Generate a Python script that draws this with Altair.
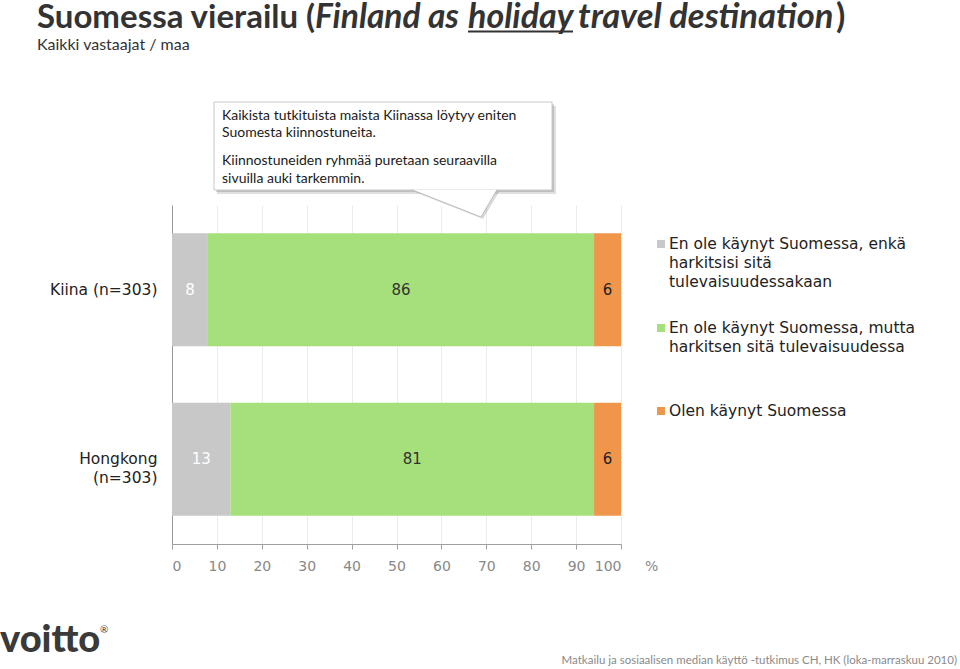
import altair as alt
import pandas as pd

# ---------------- data ----------------
countries = ["Kiina (n=303)", "Hongkong (n=303)"]
categories = [
    "En ole käynyt Suomessa, enkä harkitsisi sitä tulevaisuudessakaan",
    "En ole käynyt Suomessa, mutta harkitsen sitä tulevaisuudessa",
    "Olen käynyt Suomessa",
]
never_considered = [8, 13]
considering = [86, 81]
visited = [6, 6]
colors = ["#c8c8c8", "#a6e07a", "#f0964b"]
label_colors = ["#ffffff", "#333333", "#222222"]
x_ticks = [0, 10, 20, 30, 40, 50, 60, 70, 80, 90, 100]

rows = []
for i, c in enumerate(countries):
    for k, vals in enumerate([never_considered, considering, visited]):
        rows.append({"country": c, "category": categories[k], "order": k,
                     "value": vals[i], "lc": label_colors[k]})
df = pd.DataFrame(rows)

# ---------------- layout ----------------
OX, OY = 172, 205          # plot origin in page pixels
W, H = 449, 339

def px(x):
    return x - OX

def py(y):
    return y - OY

one = alt.Data(values=[{"a": 1}])

def txt(s, x, y, size=14, color="#222222", font="DejaVu Sans", align="left",
        weight="normal", style="normal", baseline="middle"):
    return alt.Chart(one).mark_text(
        text=s, align=align, baseline=baseline, fontSize=size, color=color,
        font=font, fontWeight=weight, fontStyle=style
    ).encode(x=alt.value(px(x)), y=alt.value(py(y)))

xscale = alt.Scale(domain=[0, 100], nice=False, zero=True)
yscale = alt.Scale(domain=countries, paddingInner=0.333, paddingOuter=0.1667)
cscale = alt.Scale(domain=categories, range=colors)

bars = alt.Chart(df).mark_bar().encode(
    x=alt.X("sum(value):Q", scale=xscale, stack="zero",
            axis=alt.Axis(values=x_ticks, title=None, grid=True, gridColor="#ececec",
                          domainColor="#a0a0a0", tickColor="#a0a0a0", tickSize=5,
                          labelColor="#888888", labelFontSize=14, labelPadding=10,
                          labelFont="DejaVu Sans")),
    y=alt.Y("country:N", scale=yscale, sort=countries,
            axis=alt.Axis(title=None, ticks=False, domainColor="#999999",
                          labelColor="#222222", labelFontSize=15.5, labelFont="DejaVu Sans",
                          labelPadding=15, labelLimit=200, labelLineHeight=19,
                          labelExpr="datum.value == 'Hongkong (n=303)' ? ['Hongkong', '(n=303)'] : datum.value")),
    color=alt.Color("category:N", scale=cscale, legend=None),
    order=alt.Order("order:Q"),
)

labels = alt.Chart(df).transform_stack(
    stack="value", groupby=["country"], as_=["v0", "v1"],
    sort=[alt.SortField("order", "ascending")]
).transform_calculate(
    mid="(datum.v0 + datum.v1) / 2"
).mark_text(fontSize=15, font="DejaVu Sans", baseline="middle").encode(
    x=alt.X("mid:Q", scale=xscale),
    y=alt.Y("country:N", scale=yscale, sort=countries),
    text="value:Q",
    color=alt.Color("lc:N", scale=None),
)

layers = [bars, labels]

# "%" after axis
layers.append(txt("%", 645, 567, size=14, color="#888888"))

# legend
leg = [
    (0, 244, ["En ole käynyt Suomessa, enkä", "harkitsisi sitä", "tulevaisuudessakaan"]),
    (1, 328, ["En ole käynyt Suomessa, mutta", "harkitsen sitä tulevaisuudessa"]),
    (2, 411, ["Olen käynyt Suomessa"]),
]
for k, y0, lines in leg:
    layers.append(alt.Chart(one).mark_square(size=64, color=colors[k], opacity=1).encode(
        x=alt.value(px(661)), y=alt.value(py(y0))))
    for j, line in enumerate(lines):
        layers.append(txt(line, 669, y0 + j * 19, size=15.5))

# callout box
layers.append(alt.Chart(one).mark_rect(color="#000000", opacity=0.12).encode(
    x=alt.value(px(217)), x2=alt.value(px(556)), y=alt.value(py(106)), y2=alt.value(py(194))))
layers.append(alt.Chart(one).mark_rect(color="#000000", opacity=0.15).encode(
    x=alt.value(px(216)), x2=alt.value(px(554)), y=alt.value(py(104)), y2=alt.value(py(192))))
layers.append(alt.Chart(one).mark_rect(fill="#ffffff", stroke="#c8c8c8", strokeWidth=1).encode(
    x=alt.value(px(214)), x2=alt.value(px(552)), y=alt.value(py(102)), y2=alt.value(py(190))))
# pointer (shadow + body)
ptr = "M-0.988,-0.33 L0.616,0.302 L0.988,-0.33 Z"
ptr_open = "M-0.988,-0.33 L0.616,0.302 L0.988,-0.33"
layers.append(alt.Chart(one).mark_point(shape=ptr, size=7396, filled=True, color="#000000",
                                        opacity=0.15, strokeWidth=0).encode(
    x=alt.value(px(456.5)), y=alt.value(py(206))))
layers.append(alt.Chart(one).mark_point(shape=ptr_open, size=7396, filled=False, fill="#ffffff",
                                        fillOpacity=1, stroke="#c0c0c0", strokeWidth=1, opacity=1).encode(
    x=alt.value(px(454.5)), y=alt.value(py(204))))
for s, y in [("Kaikista tutkituista maista Kiinassa löytyy eniten", 116),
             ("Suomesta kiinnostuneita.", 133),
             ("Kiinnostuneiden ryhmää puretaan seuraavilla", 161),
             ("sivuilla auki tarkemmin.", 179)]:
    layers.append(txt(s, 222, y, size=14, font="Lato", color="#1a1a1a"))

# title (mixed styles)
TC = "#333333"
TB = 28
layers.append(txt("Suomessa vierailu (", 37, TB, size=33, font="Lato", weight="bold",
                  color=TC, baseline="alphabetic"))
layers.append(txt("Finland as", 315, TB, size=33.5, font="Lato", weight="bold", style="italic",
                  color=TC, baseline="alphabetic"))
layers.append(txt("holiday", 468, TB, size=34, font="Lato", weight="bold", style="italic",
                  color=TC, baseline="alphabetic"))
layers.append(alt.Chart(one).mark_rule(color=TC, strokeWidth=2).encode(
    x=alt.value(px(468)), x2=alt.value(px(573)), y=alt.value(py(31.5))))
layers.append(txt("travel destination", 578, TB, size=34.5, font="Lato", weight="bold", style="italic",
                  color=TC, baseline="alphabetic"))
layers.append(txt(")", 836, TB, size=34, font="Lato", weight="bold", color=TC,
                  baseline="alphabetic"))
layers.append(txt("Kaikki vastaajat / maa", 37, 45, size=16, font="Lato", color=TC))

# logo and footer
layers.append(txt("voitto", 0, 641, size=38, font="Lato", weight=900, color="#3a3a3a"))
layers.append(txt("®", 100, 630, size=10, font="Lato", color="#3a3a3a"))
layers.append(txt("Matkailu ja sosiaalisen median käyttö -tutkimus CH, HK (loka-marraskuu 2010)",
                  957, 661, size=11.5, font="Lato", color="#8a8a8a", align="right"))

chart = alt.layer(*layers).properties(
    width=W, height=H,
    autosize=alt.AutoSizeParams(type="none"),
    padding={"left": OX, "top": OY, "right": 960 - OX - W, "bottom": 669 - OY - H},
    background="#ffffff",
).configure_view(stroke=None)

chart.save("out.html", embed_options={"renderer": "svg", "actions": False})
